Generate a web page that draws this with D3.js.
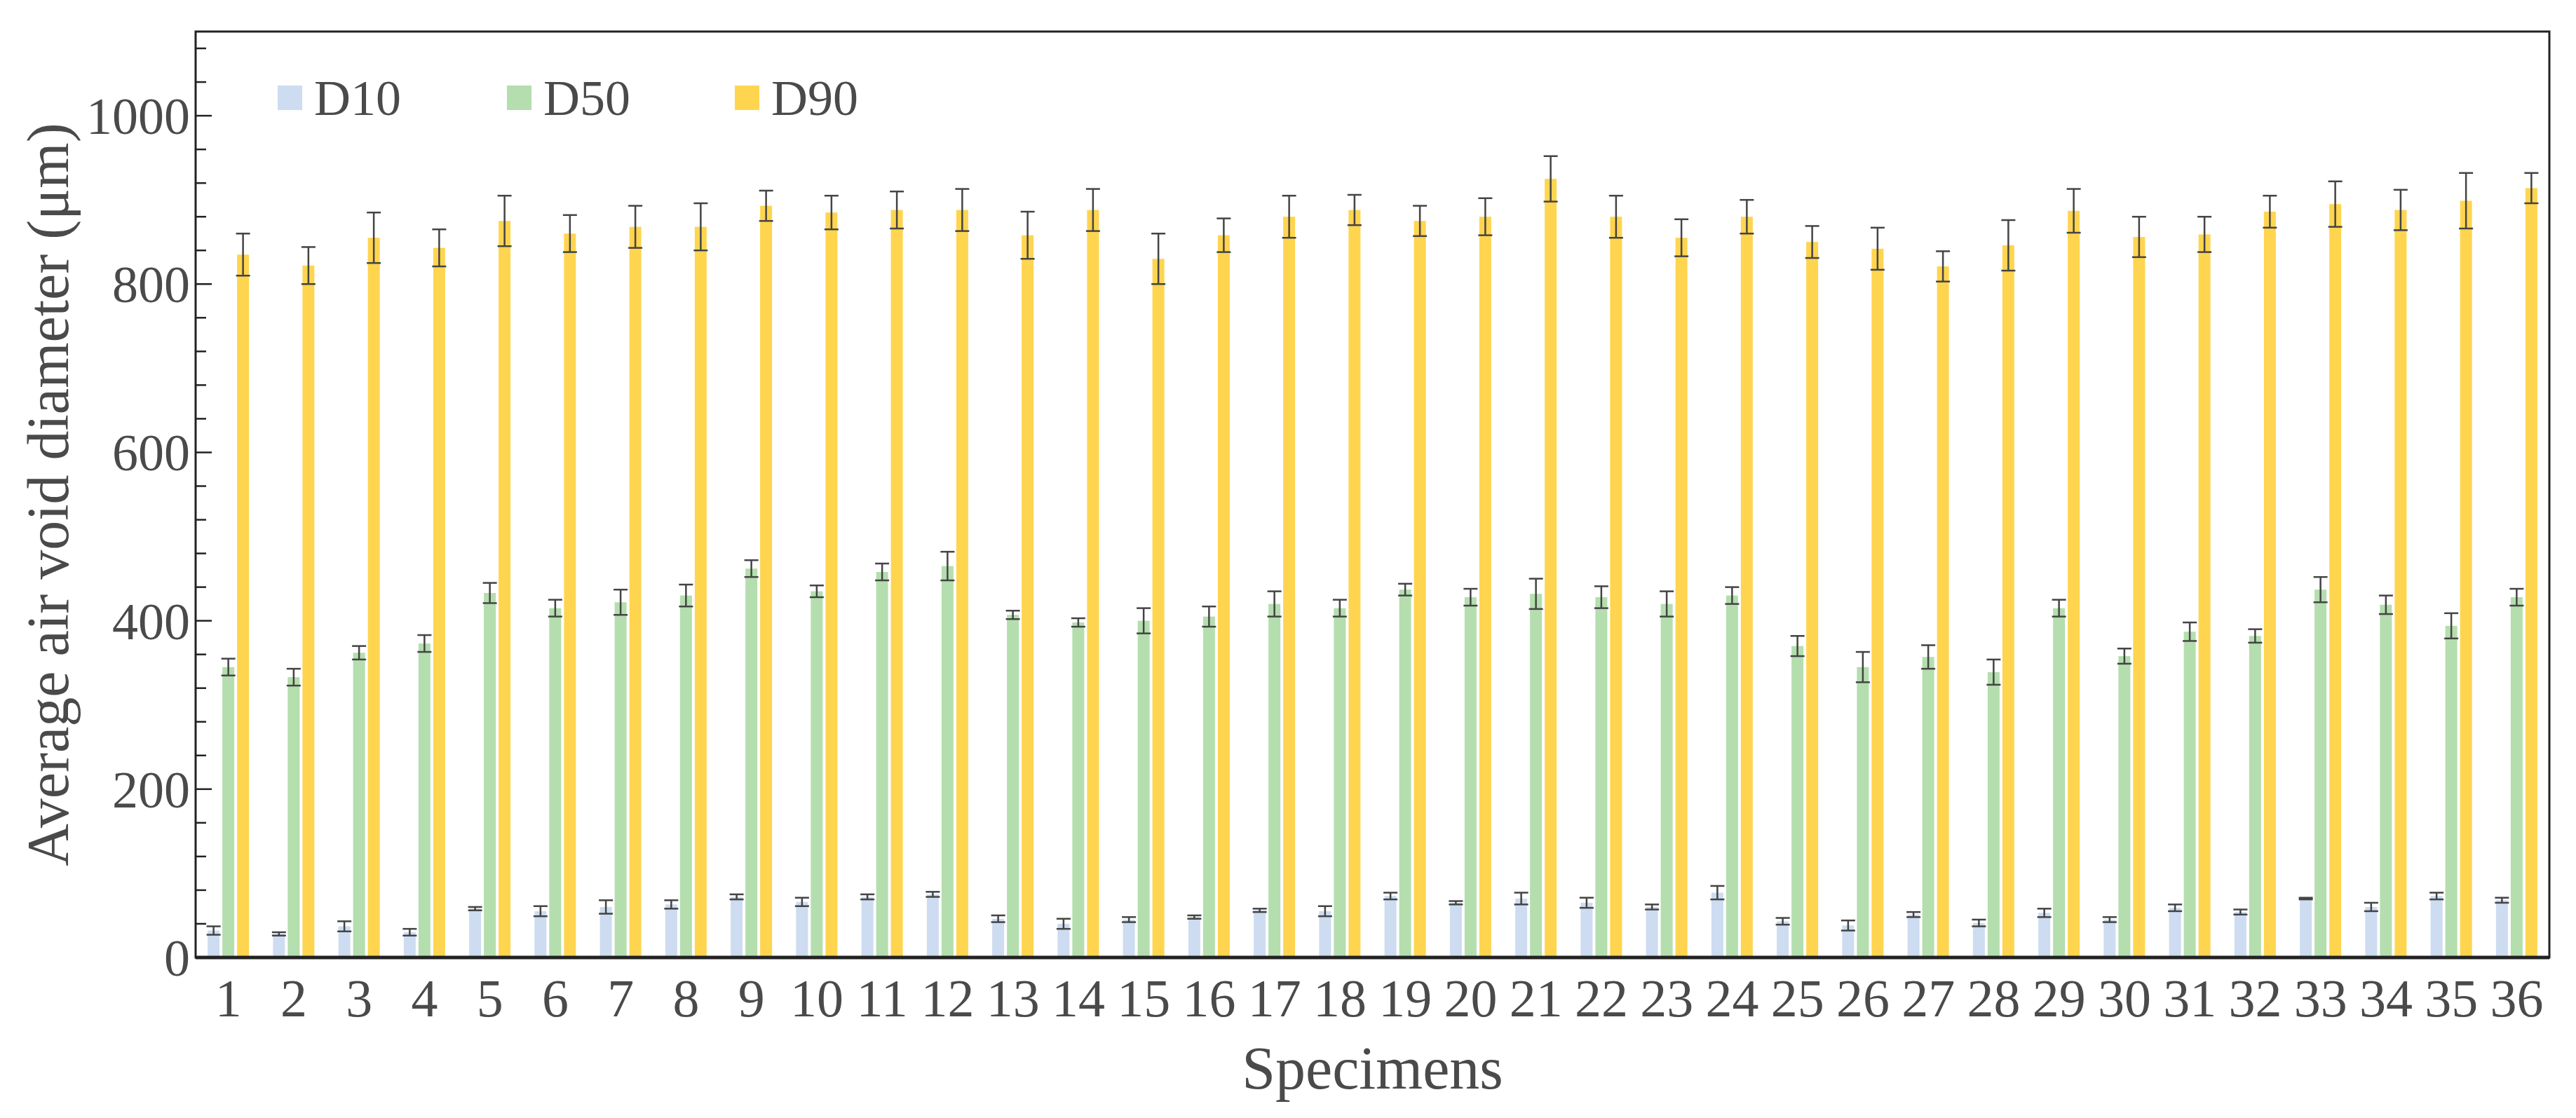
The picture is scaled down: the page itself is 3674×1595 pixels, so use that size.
<!DOCTYPE html>
<html><head><meta charset="utf-8">
<script src="https://cdn.jsdelivr.net/npm/d3@7"></script>
<style>body{margin:0;background:#fff}</style></head>
<body><svg id="c" width="3674" height="1595"></svg>
<script>
const specimens = d3.range(1,37).map(String);
const seriesNames = ["D10","D50","D90"];
const colors = ["#cddcf0","#b4deae","#ffd54f"];
const d10 = [32,28,37,30,58,55,60,63,72,66,72,75,46,40,45,48,56,55,73,65,70,65,60,77,43,38,51,41,53,45,59,54,70,60,73,68];
const d10Err = [5,2,6,4,2,6,8,5,3,5,3,3,4,6,3,2,2,6,4,2,7,6,3,8,4,6,3,4,5,3,4,3,1,5,4,3];
const d50 = [345,333,362,373,433,415,422,430,462,435,458,465,407,398,400,405,420,415,437,428,432,428,420,430,370,345,357,339,415,358,387,382,437,419,394,428];
const d50Err = [10,10,8,10,12,10,15,13,10,7,10,17,5,5,15,12,15,10,7,10,18,13,15,10,12,18,14,15,10,9,11,8,15,11,15,10];
const d90 = [835,822,855,843,875,860,868,868,893,885,888,888,858,888,830,858,880,888,875,880,925,880,855,880,850,842,821,846,887,856,859,886,895,888,899,914];
const d90Err = [25,22,30,22,30,22,25,28,18,20,22,25,28,25,30,20,25,18,18,22,27,25,22,20,19,25,18,30,26,24,21,19,27,24,33,18];
const yMajor = [0,200,400,600,800,1000];
const values = [d10,d50,d90], errs = [d10Err,d50Err,d90Err];

const L=279,R=3636,T=45,B=1366;
const svg=d3.select("#c");
const x=d3.scaleBand().domain(specimens).range([L,R]).padding(0);
const y=d3.scaleLinear().domain([0,1100]).range([B,T]);
const off=[-21,0,21], bw=17;
const font="'Liberation Serif', serif", tc="#4a4a4a";

values.forEach((vals,s)=>{
  const g=svg.append("g");
  g.selectAll("rect").data(vals).join("rect")
   .attr("x",(d,i)=>x(specimens[i])+x.bandwidth()/2+off[s]-bw/2)
   .attr("width",bw).attr("y",d=>y(d)).attr("height",d=>B-y(d)).attr("fill",colors[s]);
  const e=svg.append("g").attr("stroke","#444").attr("stroke-width",2.5);
  vals.forEach((d,i)=>{
    const cx=x(specimens[i])+x.bandwidth()/2+off[s], lo=y(d-errs[s][i]), hi=y(d+errs[s][i]);
    e.append("line").attr("x1",cx).attr("x2",cx).attr("y1",lo).attr("y2",hi);
    e.append("line").attr("x1",cx-10).attr("x2",cx+10).attr("y1",lo).attr("y2",lo);
    e.append("line").attr("x1",cx-10).attr("x2",cx+10).attr("y1",hi).attr("y2",hi);
  });
});

svg.append("rect").attr("x",L).attr("y",T).attr("width",R-L).attr("height",B-T).attr("fill","none").attr("stroke","#222").attr("stroke-width",3);
svg.append("line").attr("x1",L).attr("x2",R).attr("y1",B).attr("y2",B).attr("stroke","#222").attr("stroke-width",5);

svg.append("g").selectAll("line").data(d3.range(0,1100,40)).join("line")
  .attr("x1",L).attr("x2",d=>L+(yMajor.includes(d)?23:15)).attr("y1",d=>y(d)).attr("y2",d=>y(d))
  .attr("stroke","#222").attr("stroke-width",2.5);
svg.append("g").selectAll("text").data(yMajor).join("text")
  .attr("x",L-8).attr("y",d=>y(d)).attr("dy","0.35em").attr("text-anchor","end")
  .attr("font-family",font).attr("font-size",74).attr("fill",tc).text(d=>d);

svg.append("g").selectAll("text").data(specimens).join("text")
  .attr("x",d=>x(d)+x.bandwidth()/2).attr("y",1450).attr("text-anchor","middle")
  .attr("font-family",font).attr("font-size",76).attr("fill",tc).text(d=>d);

svg.append("text").attr("x",(L+R)/2).attr("y",1553).attr("text-anchor","middle")
  .attr("font-family",font).attr("font-size",86).attr("fill",tc).text("Specimens");
svg.append("text").attr("transform",`translate(97,${(T+B)/2}) rotate(-90)`).attr("text-anchor","middle")
  .attr("font-family",font).attr("font-size",84).attr("fill",tc).text("Average air void diameter (μm)");

const lx=[396,723,1048];
seriesNames.forEach((n,s)=>{
  svg.append("rect").attr("x",lx[s]).attr("y",122).attr("width",35).attr("height",35).attr("fill",colors[s]);
  svg.append("text").attr("x",lx[s]+52).attr("y",164).attr("font-family",font).attr("font-size",72).attr("fill",tc).text(n);
});
</script></body></html>
